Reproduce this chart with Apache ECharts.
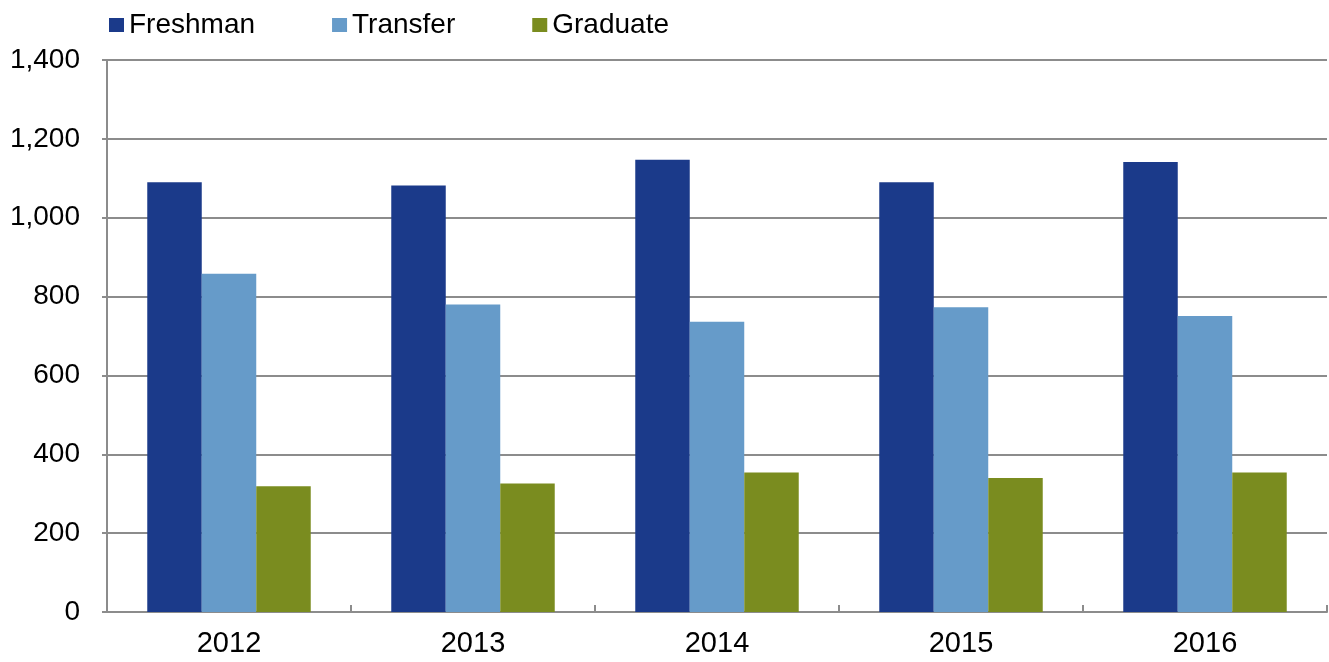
<!DOCTYPE html>
<html>
<head>
<meta charset="utf-8">
<script src="https://cdn.jsdelivr.net/npm/echarts@6/dist/echarts.min.js"></script>
<style>
html,body{margin:0;padding:0;background:#fff;}
#c{width:1329px;height:662px;}
</style>
</head>
<body>
<div id="c"></div>
<script>
var categories = ['2012', '2013', '2014', '2015', '2016'];
var freshman = [1090, 1082, 1147, 1090, 1141];
var transfer = [858, 780, 736, 773, 751];
var graduate = [319, 326, 354, 340, 354];
var seriesNames = ['Freshman', 'Transfer', 'Graduate'];
var colors = ['#1b3a8a', '#669bc9', '#7a8c1f'];

var font = '"Liberation Sans", Arial, sans-serif';
var chart = echarts.init(document.getElementById('c'), null, {renderer: 'canvas'});
var mk = function (name, data, color) {
  return {
    name: name, type: 'bar', data: data,
    barGap: '0%', barCategoryGap: '33%',
    itemStyle: {color: color},
    emphasis: {disabled: true}
  };
};
chart.setOption({
  animation: false,
  color: colors,
  legend: {
    left: 104, top: 6,
    itemWidth: 15, itemHeight: 14, itemGap: 77,
    icon: 'rect',
    textStyle: {fontFamily: font, fontSize: 28, color: '#000'},
    data: seriesNames
  },
  grid: {left: 107, right: 2, top: 60, bottom: 50},
  xAxis: {
    type: 'category', data: categories,
    axisLine: {lineStyle: {color: '#8c8c8c', width: 2}},
    axisTick: {show: true, inside: true, length: 7, alignWithLabel: false, lineStyle: {color: '#8c8c8c', width: 2}},
    axisLabel: {fontFamily: font, fontSize: 29, color: '#000', margin: 17}
  },
  yAxis: {
    type: 'value', min: 0, max: 1400, interval: 200,
    axisLine: {show: true, lineStyle: {color: '#8c8c8c', width: 2}},
    axisTick: {show: true, length: 5, lineStyle: {color: '#8c8c8c', width: 2}},
    splitLine: {lineStyle: {color: '#8c8c8c', width: 2}},
    axisLabel: {
      fontFamily: font, fontSize: 28, color: '#000', margin: 27,
      formatter: function (v) { return v.toLocaleString('en-US'); }
    }
  },
  series: [
    mk(seriesNames[0], freshman, colors[0]),
    mk(seriesNames[1], transfer, colors[1]),
    mk(seriesNames[2], graduate, colors[2])
  ]
});
</script>
</body>
</html>
